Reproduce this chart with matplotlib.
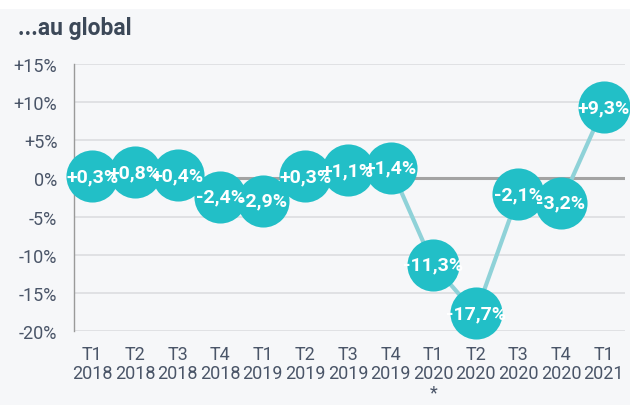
import matplotlib.pyplot as plt
from matplotlib.patches import Rectangle

quarters = ["T1", "T2", "T3", "T4", "T1", "T2", "T3", "T4", "T1", "T2", "T3", "T4", "T1"]
years = ["2018", "2018", "2018", "2018", "2019", "2019", "2019", "2019",
         "2020", "2020", "2020", "2020", "2021"]
notes = ["", "", "", "", "", "", "", "", "*", "", "", "", ""]
values = [0.3, 0.8, 0.4, -2.4, -2.9, 0.3, 1.1, 1.4, -11.3, -17.7, -2.1, -3.2, 9.3]
labels = ["+0,3%", "+0,8%", "+0,4%", "-2,4%", "-2,9%", "+0,3%", "+1,1%", "+1,4%",
          "-11,3%", "-17,7%", "-2,1%", "-3,2%", "+9,3%"]
yticks = [15, 10, 5, 0, -5, -10, -15, -20]
ytick_labels = ["+15%", "+10%", "+5%", "0%", "-5%", "-10%", "-15%", "-20%"]

plt.rcParams['font.family'] = ['Roboto', 'DejaVu Sans']

fig = plt.figure(figsize=(6.3, 4.06), dpi=100, facecolor='#f6f7f9')
fig.patches.append(Rectangle((0, 0.975), 1, 0.025, transform=fig.transFigure,
                             facecolor='white', edgecolor='none', zorder=0))
fig.text(0.029, 0.93, "...au global", fontsize=16.5, fontweight='bold',
         color='#3c4858', ha='left', va='center')

ax = fig.add_axes([0.1175, 0.1823, 0.8745, 0.6577])
ax.set_facecolor('none')

x = list(range(len(values)))
ax.set_xlim(-0.43, 12.5)
ax.set_ylim(-20, 15)

for t in yticks:
    ax.axhline(t, color='#dcdde0', lw=1.2, zorder=1)
ax.axhline(0, color='#a3a3a3', lw=2.2, zorder=2)

ax.plot(x, values, color='#8fd2d8', lw=3, zorder=3, solid_capstyle='round')
ax.plot(x, values, 'o', ms=37.5, color='#22bfc7', mec='none', zorder=4, clip_on=False)
for xi, v, lab in zip(x, values, labels):
    ax.text(xi, v, lab, color='white', fontsize=14, fontweight='bold',
            ha='center', va='center', zorder=5, clip_on=False)

for s in ['top', 'right', 'bottom']:
    ax.spines[s].set_visible(False)
ax.spines['left'].set_color('#9a9a9a')
ax.spines['left'].set_linewidth(1)
ax.spines['left'].set_zorder(3.5)

ax.set_yticks(yticks)
ax.set_yticklabels(ytick_labels)
ax.set_xticks(x)
ax.set_xticklabels([f"{q}\n{y}\n{n}" if n else f"{q}\n{y}\n " for q, y, n in
                    zip(quarters, years, notes)], linespacing=1.1, va='top')
ax.tick_params(axis='both', length=0, labelsize=13, colors='#4a5568')
ax.tick_params(axis='y', pad=12)
ax.tick_params(axis='x', pad=10)

fig.savefig('out.png', dpi=100, facecolor=fig.get_facecolor())
